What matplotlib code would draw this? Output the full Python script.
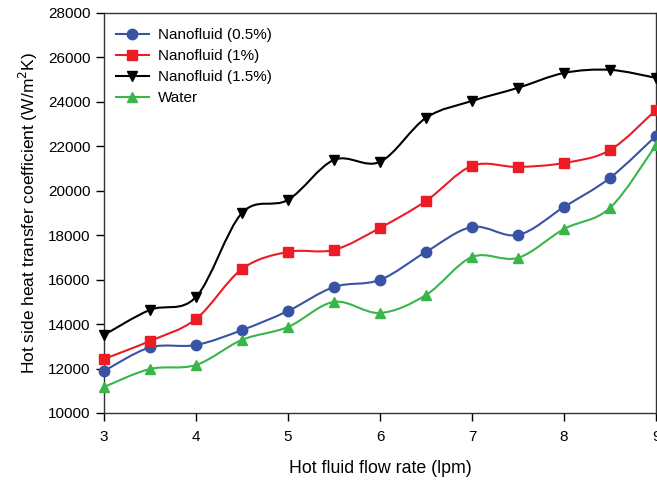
import numpy as np
import matplotlib
matplotlib.use('Agg')
import matplotlib.pyplot as plt
from matplotlib.path import Path
from matplotlib.patches import PathPatch
from matplotlib.lines import Line2D

plt.rcParams['font.family'] = ['Liberation Sans', 'DejaVu Sans']

# data
flow = [3, 3.5, 4, 4.5, 5, 5.5, 6, 6.5, 7, 7.5, 8, 8.5, 9]
nf_05 = [11890, 12950, 13060, 13730, 14590, 15670, 15990, 17250, 18370, 18010, 19270, 20580, 22470]
nf_1 = [12430, 13240, 14230, 16480, 17250, 17340, 18330, 19540, 21120, 21070, 21250, 21830, 23640]
nf_15 = [13510, 14640, 15220, 19000, 19590, 21390, 21300, 23280, 24040, 24630, 25300, 25440, 25080]
water = [11170, 11980, 12160, 13290, 13870, 15000, 14500, 15310, 17020, 16980, 18280, 19230, 22060]

labels = ['Nanofluid (0.5%)', 'Nanofluid (1%)', 'Nanofluid (1.5%)', 'Water']
colors = ['#3953a4', '#ed1c24', '#000000', '#39b54a']
markers = ['o', 's', 'v', '^']


def smooth_path(x, y):
    # catmull-rom style bezier through the points, drawn by matplotlib
    x = np.asarray(x, float)
    y = np.asarray(y, float)
    verts = [(x[0], y[0])]
    codes = [Path.MOVETO]
    n = len(x)
    for i in range(n - 1):
        x0, y0 = (x[i - 1], y[i - 1]) if i > 0 else (x[i], y[i])
        x3, y3 = (x[i + 2], y[i + 2]) if i + 2 < n else (x[i + 1], y[i + 1])
        c1 = (x[i] + (x[i + 1] - x0) / 6, y[i] + (y[i + 1] - y0) / 6)
        c2 = (x[i + 1] - (x3 - x[i]) / 6, y[i + 1] - (y3 - y[i]) / 6)
        verts += [c1, c2, (x[i + 1], y[i + 1])]
        codes += [Path.CURVE4] * 3
    return Path(verts, codes)


fig = plt.figure(figsize=(6.57, 4.80), dpi=100)
ax = fig.add_axes([0.1583, 0.1396, 0.8402, 0.8334])

handles = []
for ys, lab, c, m in zip([nf_05, nf_1, nf_15, water], labels, colors, markers):
    ax.add_patch(PathPatch(smooth_path(flow, ys), fill=False, edgecolor=c, lw=1.5, zorder=2))
    ax.plot(flow, ys, ls='none', marker=m, color=c, markersize=7.5, zorder=3, clip_on=False)
    handles.append(Line2D([], [], color=c, lw=1.5, marker=m, markersize=7.5, label=lab))

ax.set_xlim(3, 9)
ax.set_ylim(10000, 28000)
ax.set_xticks([3, 4, 5, 6, 7, 8, 9])
ax.set_yticks(np.arange(10000, 28001, 2000))
ax.tick_params(direction='out', length=6, width=1, labelsize=11)
ax.tick_params(axis='x', pad=6)
for s in ax.spines.values():
    s.set_linewidth(1)
    s.set_color('#333333')

ax.set_xlabel('Hot fluid flow rate (lpm)', fontsize=12.8, labelpad=12)
ax.set_ylabel('Hot side heat transfer coefficient (W/m$^2$K)', fontsize=12.5, labelpad=6)

ax.legend(handles=handles, loc='upper left', frameon=False, fontsize=11,
          handlelength=2.2, handletextpad=0.6, labelspacing=0.45,
          borderaxespad=0, bbox_to_anchor=(0.01, 0.977))

fig.savefig('out.png', dpi=100)
